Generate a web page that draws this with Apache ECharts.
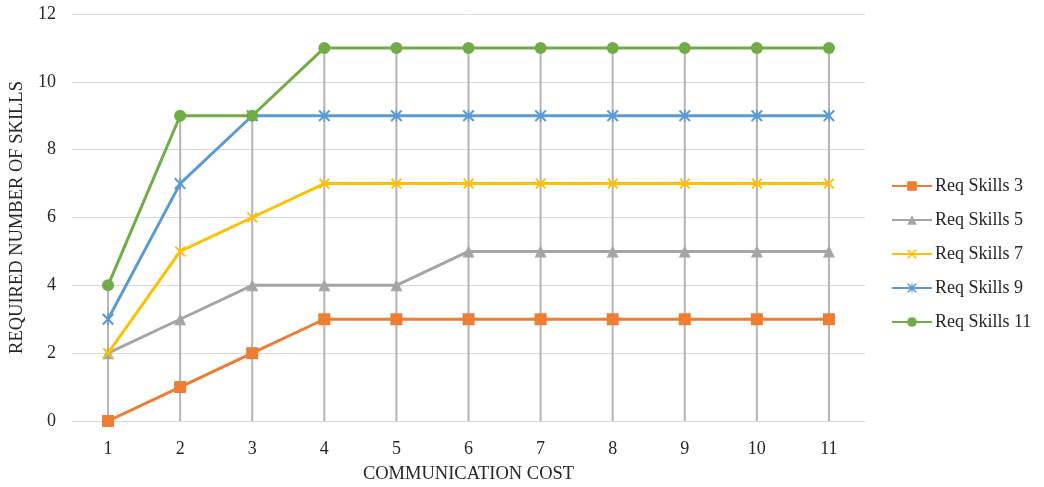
<!DOCTYPE html>
<html>
<head>
<meta charset="utf-8">
<script src="https://cdn.jsdelivr.net/npm/echarts@6/dist/echarts.min.js"></script>
<style>
  html, body { margin: 0; padding: 0; background: #fff; }
  #chart { width: 1044px; height: 487px; }
</style>
</head>
<body>
<div id="chart"></div>
<script>
// Communication cost on the x axis
const costs = ['1', '2', '3', '4', '5', '6', '7', '8', '9', '10', '11'];

// Required number of skills per series
const reqSkills3  = [0, 1, 2, 3, 3, 3, 3, 3, 3, 3, 3];
const reqSkills5  = [2, 3, 4, 4, 4, 5, 5, 5, 5, 5, 5];
const reqSkills7  = [2, 5, 6, 7, 7, 7, 7, 7, 7, 7, 7];
const reqSkills9  = [3, 7, 9, 9, 9, 9, 9, 9, 9, 9, 9];
const reqSkills11 = [4, 9, 9, 11, 11, 11, 11, 11, 11, 11, 11];

const seriesNames = ['Req Skills 3', 'Req Skills 5', 'Req Skills 7', 'Req Skills 9', 'Req Skills 11'];
const allSeries = [reqSkills3, reqSkills5, reqSkills7, reqSkills9, reqSkills11];

// Drop lines run from the highest point of each category down to the axis
const dropTops = costs.map((_, i) => Math.max(...allSeries.map(s => s[i])));

const FONT = '"Liberation Serif", "Times New Roman", serif';

// Marker shapes (filled outlines)
const crossPath = 'path://M0,1.2L1.2,0L5,3.8L8.8,0L10,1.2L6.2,5L10,8.8L8.8,10L5,6.2L1.2,10L0,8.8L3.8,5Z';
const starPath = 'path://M0,1.2L1.2,0L4.4,3.2L4.4,0L5.6,0L5.6,3.2L8.8,0L10,1.2L6.2,5L10,8.8L8.8,10L5.6,6.8L5.6,10L4.4,10L4.4,6.8L1.2,10L0,8.8L3.8,5Z';

const styles = [
  { color: '#ED7D31', symbol: 'rect', size: 12 },
  { color: '#A5A5A5', symbol: 'triangle', size: 12 },
  { color: '#FFC000', symbol: crossPath, size: 11 },
  { color: '#5B9BD5', symbol: starPath, size: 12 },
  { color: '#70AD47', symbol: 'circle', size: 12 }
];

const lineSeries = allSeries.map((data, i) => ({
  name: seriesNames[i],
  type: 'line',
  data: data,
  symbol: styles[i].symbol,
  symbolSize: styles[i].size,
  showAllSymbol: true,
  lineStyle: { color: styles[i].color, width: 3 },
  itemStyle: { color: styles[i].color },
  z: 3 + i,
  animation: false
}));

const chart = echarts.init(document.getElementById('chart'), null, { renderer: 'canvas' });
chart.setOption({
  animation: false,
  backgroundColor: '#ffffff',
  grid: { left: 72, right: 179, top: 14, bottom: 66, containLabel: false, outerBoundsMode: 'none' },
  legend: {
    data: seriesNames,
    orient: 'vertical',
    left: 886,
    top: 172,
    itemWidth: 40,
    itemHeight: 12,
    itemGap: 16,
    textStyle: { fontFamily: FONT, fontSize: 18, color: '#262626', padding: [0, 0, 0, -2] }
  },
  xAxis: {
    type: 'category',
    data: costs,
    boundaryGap: true,
    name: 'COMMUNICATION COST',
    nameLocation: 'middle',
    nameGap: 44,
    nameTextStyle: { fontFamily: FONT, fontSize: 18.5, color: '#262626' },
    axisLine: { show: true, lineStyle: { color: '#d9d9d9', width: 1 } },
    axisTick: { show: false },
    axisLabel: { fontFamily: FONT, fontSize: 18, color: '#262626', margin: 19 },
    splitLine: { show: false }
  },
  yAxis: {
    type: 'value',
    min: 0,
    max: 12,
    interval: 2,
    name: 'REQUIRED NUMBER OF SKILLS',
    nameLocation: 'middle',
    nameGap: 41,
    nameRotate: 90,
    nameTextStyle: { fontFamily: FONT, fontSize: 18.5, color: '#262626' },
    axisLine: { show: false },
    axisTick: { show: false },
    axisLabel: { fontFamily: FONT, fontSize: 18, color: '#262626', margin: 16 },
    splitLine: { show: true, lineStyle: { color: '#d9d9d9', width: 1 } }
  },
  series: [
    {
      name: 'drop',
      type: 'bar',
      data: dropTops,
      barWidth: 2,
      silent: true,
      itemStyle: { color: '#b4b4b4' },
      z: 1,
      animation: false
    },
    ...lineSeries
  ]
});
</script>
</body>
</html>
